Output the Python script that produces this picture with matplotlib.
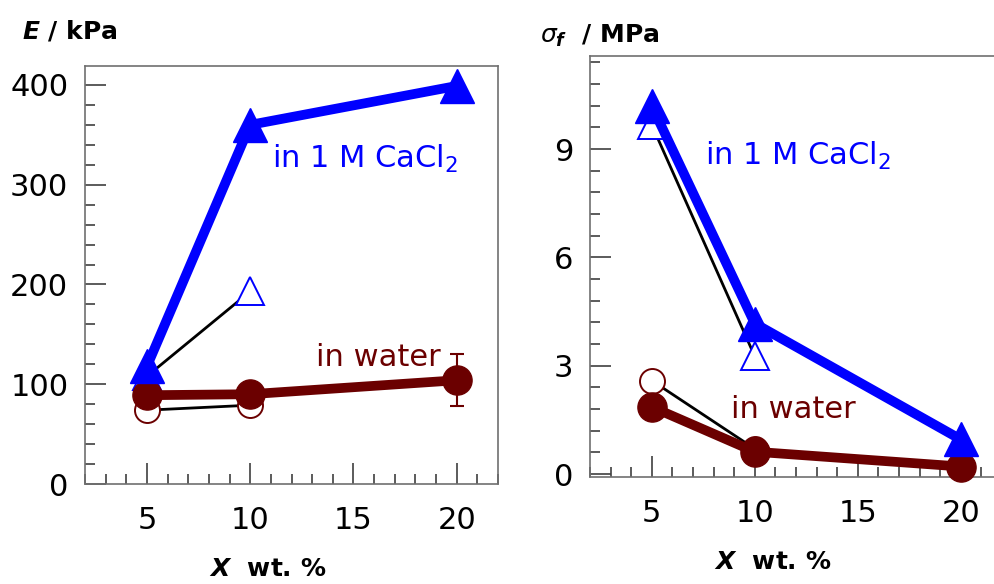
import matplotlib.pyplot as plt
import numpy as np
from matplotlib.ticker import MultipleLocator

plt.rcParams['font.family'] = ['DejaVu Sans']
plt.rcParams['mathtext.fontset'] = 'custom'
plt.rcParams['mathtext.rm'] = 'DejaVu Sans'
plt.rcParams['mathtext.it'] = 'DejaVu Sans:italic'
plt.rcParams['mathtext.bf'] = 'DejaVu Sans:bold'
plt.rcParams['mathtext.bfit'] = 'DejaVu Sans:italic:bold'

# Data
x = [5, 10, 20]
x_open = [5, 10]

# Young's modulus E / kPa
E_cacl2 = [118, 360, 399]
E_cacl2_open = [108, 193]
E_water = [89, 90, 104]
E_water_err = [0, 0, 26]
E_water_open = [74, 79]

# fracture stress sigma_f / MPa
S_cacl2 = [10.2, 4.17, 0.96]
S_cacl2_open = [9.67, 3.26]
S_water = [1.86, 0.62, 0.21]
S_water_open = [2.59, 0.70]

blue = '#0000ff'
brown = '#6b0000'
frame = '#707070'

fig = plt.figure(figsize=(9.94, 5.84), dpi=100)
ax1 = fig.add_axes([85/994, 1-484/584, 413/994, 418/584])
ax2 = fig.add_axes([590/994, 1-477/584, 412/994, 421/584])


def style(ax, ymaj, ymin):
    for s in ax.spines.values():
        s.set_color(frame)
        s.set_linewidth(1.2)
    ax.xaxis.set_major_locator(MultipleLocator(5))
    ax.xaxis.set_minor_locator(MultipleLocator(1))
    ax.yaxis.set_major_locator(MultipleLocator(ymaj))
    ax.yaxis.set_minor_locator(MultipleLocator(ymin))
    ax.tick_params(which='both', direction='in', colors='#404040',
                   top=False, right=False, labelsize=22, labelcolor='black')
    ax.tick_params(which='major', length=15, width=1.2)
    ax.tick_params(which='minor', length=7, width=1.2)
    ax.tick_params(axis='x', pad=16)
    ax.tick_params(axis='y', pad=12)
    ax.set_xlim(2, 22)


def draw(ax, cacl2, cacl2_open, water, water_open, err=None):
    ax.plot(x_open, cacl2_open, color='black', lw=2, zorder=2)
    ax.plot(x_open, cacl2_open, ls='none', marker='^', ms=20, mfc='white',
            mec=blue, mew=1.4, zorder=3, clip_on=False)
    ax.plot(x_open, water_open, color='black', lw=2, zorder=2)
    ax.plot(x_open, water_open, ls='none', marker='o', ms=18, mfc='white',
            mec=brown, mew=1.4, zorder=3, clip_on=False)
    if err is not None:
        ax.errorbar(x, water, yerr=err, fmt='none', ecolor=brown,
                    elinewidth=1.5, capsize=5, capthick=1.5, zorder=4)
    ax.plot(x, water, color=brown, lw=7, marker='o', ms=21, zorder=5,
            clip_on=False)
    ax.plot(x, cacl2, color=blue, lw=7, marker='^', ms=24, zorder=6,
            clip_on=False)


style(ax1, 100, 20)
ax1.set_ylim(0, 419)
draw(ax1, E_cacl2, E_cacl2_open, E_water, E_water_open, E_water_err)
ax1.set_yticks([0, 100, 200, 300, 400])
ax1.text(272/994, 1-159/584, 'in 1 M CaCl$_2$', transform=fig.transFigure,
         color=blue, fontsize=22, va='center', ha='left')
ax1.text(316/994, 1-358/584, 'in water', transform=fig.transFigure,
         color=brown, fontsize=22, va='center', ha='left')

style(ax2, 3, 0.6)
ax2.set_ylim(-0.08, 11.58)
draw(ax2, S_cacl2, S_cacl2_open, S_water, S_water_open)
ax2.set_yticks([0, 3, 6, 9])
ax2.text(705/994, 1-156/584, 'in 1 M CaCl$_2$', transform=fig.transFigure,
         color=blue, fontsize=22, va='center', ha='left')
ax2.text(731/994, 1-409/584, 'in water', transform=fig.transFigure,
         color=brown, fontsize=22, va='center', ha='left')

fig.text(22/994, 1-31/584, r'$\mathbfit{E}$ / kPa', fontsize=18,
         fontweight='bold', va='center', ha='left')
fig.text(540/994, 1-36/584, r'$\sigma_{\mathbfit{f}}$  / MPa', fontsize=18,
         fontweight='bold', va='center', ha='left')
fig.text(268/994, 1-569/584, r'$\mathbfit{X}$  wt. %', fontsize=18,
         fontweight='bold', va='center', ha='center')
fig.text(773/994, 1-562/584, r'$\mathbfit{X}$  wt. %', fontsize=18,
         fontweight='bold', va='center', ha='center')

fig.savefig('out.png', dpi=100)
